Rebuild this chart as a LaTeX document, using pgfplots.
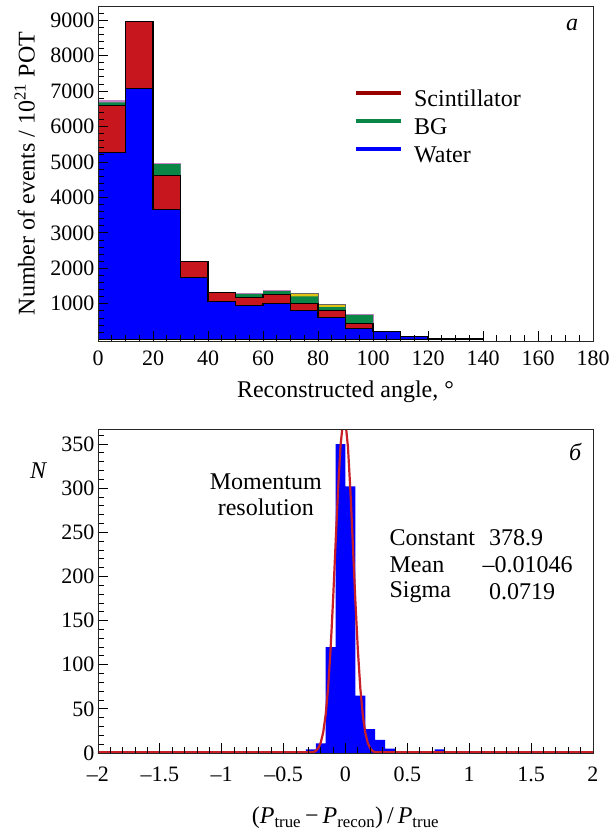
\documentclass[border=0pt]{standalone}
\usepackage{fontspec}
\setmainfont{Liberation Serif}
\usepackage{pgfplots}
\pgfplotsset{compat=1.18}

\definecolor{water}{RGB}{0,0,255}
\definecolor{scint}{RGB}{200,22,30}
\definecolor{scintleg}{RGB}{153,0,0}
\definecolor{bg}{RGB}{10,135,70}
\definecolor{yel}{RGB}{225,195,20}
\definecolor{pinkline}{RGB}{200,130,200}
\definecolor{fitred}{RGB}{200,30,40}

\pgfplotsset{
  rootframe/.style={
    scale only axis,
    axis on top,
    axis line style={black!85, line width=0.8pt},
    tick align=inside,
    xtick pos=left, ytick pos=left,
    major tick length=10pt, minor tick length=6pt,
    every tick/.style={black, line width=0.8pt},
    tick label style={font=\rmfamily\fontsize{22}{24}\selectfont},
    xticklabel={\pgfmathprintnumber[assume math mode=true,1000 sep={}]{\tick}},
    yticklabel={\pgfmathprintnumber[assume math mode=true,1000 sep={}]{\tick}},
    label style={font=\rmfamily\fontsize{24}{28}\selectfont},
  }
}

\begin{document}
\begin{tikzpicture}
\useasboundingbox (0,0) rectangle (615pt,831pt);

% top panel: reconstructed angle, stacked
\begin{axis}[
  rootframe,
  at={(98pt,490pt)}, anchor=south west,
  width=495pt, height=335pt,
  xmin=0, xmax=180, ymin=-50, ymax=9400,
  xtick={0,20,...,180}, minor x tick num=3,
  ytick={1000,2000,...,9000}, minor ytick={0,200,...,9400},
  xticklabel style={yshift=-6pt},
  xlabel={Reconstructed angle, °},
  ylabel={Number of events / 10\textsuperscript{21} POT},
  xlabel style={at={(axis description cs:0.5,-0.152)}, anchor=center},
  ylabel style={at={(axis description cs:-0.148,0.5)}, anchor=center},
  legend style={at={(rel axis cs:0.517,0.752)}, anchor=north west,
    draw=none, fill=none, font=\fontsize{24}{28}\selectfont,
    inner sep=0pt, column sep=11pt, row sep=6pt,
    nodes={inner sep=0pt, text height=17pt, text depth=5pt}},
  legend cell align=left,
  legend image code/.code={\draw[#1, line width=4pt] (0pt,7pt) -- (45pt,7pt);},
]
% total (incl. small other component)
\addplot[const plot, fill=pinkline, draw=pinkline, line width=0.8pt, forget plot] coordinates {
  (0,6725) (10,8960) (20,4950) (30,2200) (40,1320) (50,1300) (60,1380)
  (70,1285) (80,990) (90,700) (100,215) (110,75) (120,30) (130,8) (140,8)
} \closedcycle;
% other (yellow)
\addplot[const plot, fill=yel, draw=black!60, line width=0.8pt, forget plot] coordinates {
  (70,1285) (80,990) (90,990)
} \closedcycle;
% BG cumulative
\addplot[const plot, fill=bg, draw=none, forget plot] coordinates {
  (0,6680) (10,8960) (20,4940) (30,2200) (40,1320) (50,1280) (60,1360)
  (70,1210) (80,905) (90,690) (100,210) (110,75) (120,30) (130,8) (140,8)
} \closedcycle;
% Scintillator cumulative
\addplot[const plot, fill=scint, draw=black, line width=1.1pt, forget plot] coordinates {
  (0,6600) (10,8960) (20,4630) (30,2200) (40,1320) (50,1180) (60,1255)
  (70,1020) (80,800) (90,435) (100,210) (110,75) (120,30) (130,8) (140,8)
} \closedcycle;
% Water
\addplot[const plot, fill=water, draw=black, line width=1.1pt, forget plot] coordinates {
  (0,5260) (10,7075) (20,3650) (30,1735) (40,1055) (50,955) (60,1020)
  (70,800) (80,615) (90,310) (100,210) (110,75) (120,30) (130,8) (140,8)
} \closedcycle;
\addlegendimage{scintleg}
\addlegendentry{Scintillator}
\addlegendimage{bg}
\addlegendentry{BG}
\addlegendimage{water}
\addlegendentry{Water}
\node[font=\fontsize{24}{28}\selectfont\itshape] at (rel axis cs:0.958,0.943) {а};
\end{axis}

% bottom panel: momentum resolution
\begin{axis}[
  rootframe,
  at={(98pt,78pt)}, anchor=south west,
  width=495pt, height=324pt,
  xmin=-2, xmax=2, ymin=0, ymax=367,
  xtick={-2,-1.5,...,2}, minor x tick num=4,
  xticklabels={–2,–1.5,–1,–0.5,0,0.5,1,1.5,2},
  xticklabel style={yshift=-10pt},
  ytick={0,50,...,350}, minor ytick={0,10,...,360},
  xlabel={(\textit{P}\textsubscript{true}\,−\,\textit{P}\textsubscript{recon})\,/\,\textit{P}\textsubscript{true}},
  ylabel={\textit{N}},
  xlabel style={at={(axis description cs:0.5,-0.2)}, anchor=center},
  ylabel style={at={(axis description cs:-0.12,0.873)}, anchor=center, rotate=-90},
]
\addplot[const plot, fill=water, draw=none] coordinates {
  (-0.32,4) (-0.24,11) (-0.16,120) (-0.08,350) (0.00,302) (0.08,65)
  (0.16,27) (0.24,15) (0.32,5) (0.40,1) (0.48,1) (0.56,1) (0.64,1)
  (0.72,4) (0.80,2) (0.88,2)
} \closedcycle;
% Gaussian fit: Constant 378.9, Mean -0.01046, Sigma 0.0719
\addplot[fitred, line width=2.2pt] coordinates {
  (-2,0.8) (-0.40,0.8) (-0.30,0.8) (-0.28,0.8) (-0.26,0.92) (-0.24,2.32)
  (-0.22,5.42) (-0.20,11.73) (-0.18,23.51) (-0.16,43.58) (-0.14,74.75)
  (-0.12,118.7) (-0.10,174.5) (-0.08,237.4) (-0.06,298.8) (-0.04,348.2)
  (-0.02,375.6) (-0.01046,378.9) (0.00,374.9) (0.02,346.4) (0.04,296.2)
  (0.06,234.4) (0.08,171.7) (0.10,116.4) (0.12,73.05) (0.14,42.44)
  (0.16,22.81) (0.18,11.34) (0.20,5.22) (0.22,2.23) (0.24,0.88)
  (0.26,0.8) (0.28,0.8) (0.30,0.8) (2,0.8)
};
\node[font=\fontsize{24}{26}\selectfont, align=center] at (rel axis cs:0.339,0.796) {Momentum\\resolution};
\node[font=\fontsize{24}{28}\selectfont, anchor=west] at (rel axis cs:0.582,0.664) {Constant};
\node[font=\fontsize{24}{28}\selectfont, anchor=west] at (rel axis cs:0.582,0.580) {Mean};
\node[font=\fontsize{24}{28}\selectfont, anchor=west] at (rel axis cs:0.582,0.497) {Sigma};
\node[font=\fontsize{24}{28}\selectfont, anchor=west] at (rel axis cs:0.783,0.664) {378.9};
\node[font=\fontsize{24}{28}\selectfont, anchor=west] at (rel axis cs:0.770,0.580) {–0.01046};
\node[font=\fontsize{24}{28}\selectfont, anchor=west] at (rel axis cs:0.783,0.497) {0.0719};
\node[font=\fontsize{24}{28}\selectfont\itshape] at (rel axis cs:0.964,0.929) {б};
\end{axis}
\end{tikzpicture}
\end{document}
